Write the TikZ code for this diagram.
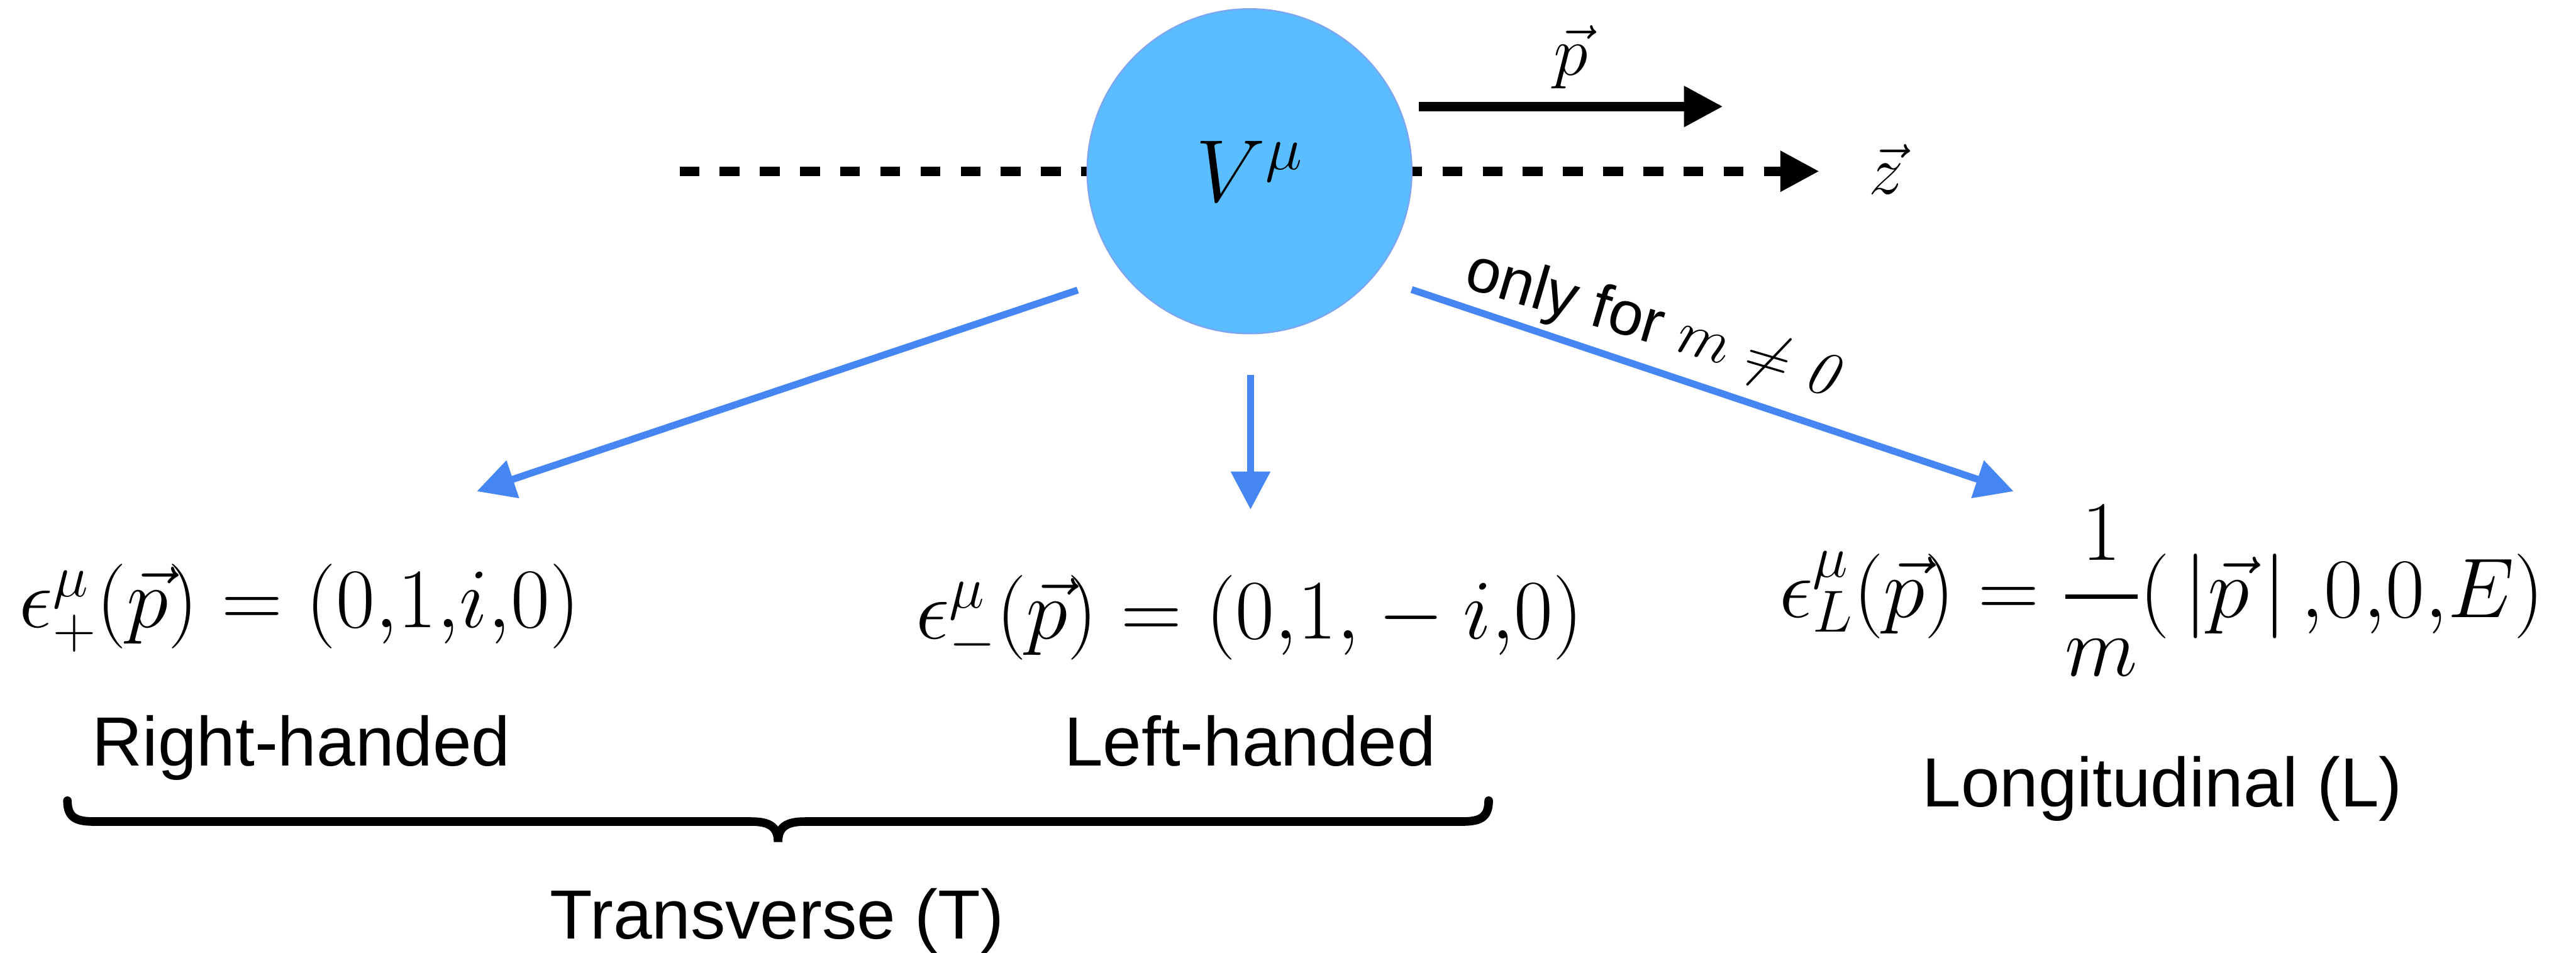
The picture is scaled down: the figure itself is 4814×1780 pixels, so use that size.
\RequirePackage{fix-cm}
\documentclass[tikz,border=0pt]{standalone}
\usepackage[no-math]{fontspec}
\setsansfont{Liberation Sans}
\usetikzlibrary{arrows.meta}
\definecolor{ballblue}{HTML}{5ABDFE}
\definecolor{balledge}{HTML}{7AA6F2}
\definecolor{arrblue}{HTML}{4586F2}
\begin{document}
\begin{tikzpicture}[x=0.01cm,y=-0.01cm,
  mathlbl/.style={inner sep=0pt, anchor=base, font=\fontsize{45}{54}\selectfont},
  veclbl/.style={inner sep=0pt, anchor=base, font=\fontsize{37}{44}\selectfont},
  sanslbl/.style={inner sep=0pt, anchor=base, font=\fontsize{37}{44}\selectfont\sffamily},
  condlbl/.style={inner sep=0pt, anchor=center, font=\fontsize{33}{40}\selectfont\sffamily},
  blackarrow/.style={black, line width=0.18cm, -{Triangle[length=0.73cm,width=0.72cm]}},
  axisarrow/.style={blackarrow, dash pattern=on 0.37cm off 0.38cm},
  bluearrow/.style={arrblue, line width=0.13cm, -{Triangle[length=0.71cm,width=0.71cm]}},
  bracepath/.style={black, line width=0.16cm, line cap=round}]
\fill[white] (0,0) rectangle (4814,1780);
\useasboundingbox (0,0) rectangle (4814,1780);

% axis and momentum
\coordinate (zs) at (1270,320);
\coordinate (zt) at (3400,320);
\coordinate (ps) at (2652,199);
\coordinate (pt) at (3220,199);
\draw[axisarrow] (zs) -- (zt);
\draw[blackarrow] (ps) -- (pt);

% particle
\node[circle, fill=ballblue, draw=balledge, line width=0.03cm, minimum size=6.06cm, inner sep=0pt] (ball) at (2335,320) {};
\node[mathlbl, font=\fontsize{47}{55}\selectfont] (Vlbl) at (2335,377) {$V^{\mu}$};
\node[veclbl] (plbl) at (2935,140) {$\vec{p}$};
\node[veclbl] (zlbl) at (3525,363) {$\vec{z}$};

% branches
\coordinate (ls) at (2014,542);
\coordinate (lt) at (891,918);
\coordinate (ms) at (2337,700);
\coordinate (mt) at (2337,952);
\coordinate (rs) at (2638,541);
\coordinate (rt) at (3763,918);
\draw[bluearrow] (ls) -- (lt);
\draw[bluearrow] (ms) -- (mt);
\draw[bluearrow] (rs) -- (rt);
\node[condlbl, rotate=-16.5] (cond) at (3093,612) {only for $m \neq \mathit{0}$};

% polarisation vectors
\node[mathlbl] (epsP) at (560,1172) {$\epsilon^{\mu}_{+}(\vec{p}) = (0{,}1{,}i{,}0)$};
\node[mathlbl] (epsM) at (2335,1193) {$\epsilon^{\mu}_{-}(\vec{p}) = (0{,}1{,}{}-i{,}0)$};
\node[mathlbl] (epsL) at (4040,1154) {$\epsilon^{\mu}_{L}(\vec{p}) = {\displaystyle{1\above 2.4pt m}}(\,|\vec{p}\,|\,{,}0{,}0{,}E)$};

\node[sanslbl] (rh) at (563,1431) {Right-handed};
\node[sanslbl] (lh) at (2336,1431) {Left-handed};
\node[sanslbl] (long) at (4041,1507) {Longitudinal (L)};
\node[sanslbl] (trans) at (1452,1754) {Transverse (T)};

% brace
\draw[bracepath] (126,1496) .. controls (126,1530) and (145,1535) .. (178,1535)
  -- (1404,1535) .. controls (1438,1535) and (1454,1545) .. (1454,1573)
  .. controls (1454,1545) and (1470,1535) .. (1504,1535)
  -- (2730,1535) .. controls (2763,1535) and (2782,1530) .. (2782,1496);
\end{tikzpicture}
\end{document}
